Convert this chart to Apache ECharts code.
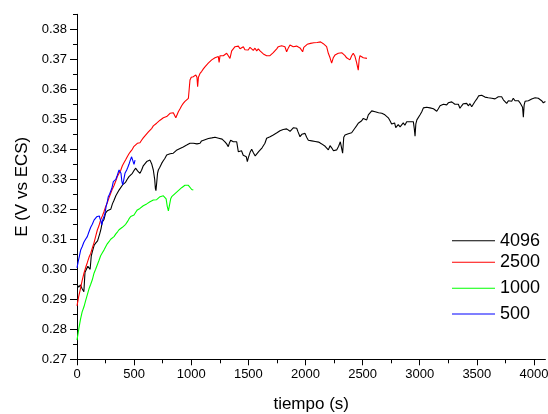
<!DOCTYPE html>
<html>
<head>
<meta charset="utf-8">
<script src="https://cdn.jsdelivr.net/npm/echarts@6/dist/echarts.min.js"></script>
<style>html,body{margin:0;padding:0;background:#fff}#c{width:548px;height:414px}</style>
</head>
<body>
<div id="c"></div>
<script>
const seriesNames = ['4096', '2500', '1000', '500'];
const seriesColors = ['#000000', '#ff0000', '#00ff00', '#0000ff'];

const xMajorTicks = [0, 500, 1000, 1500, 2000, 2500, 3000, 3500, 4000];
const xMinorTicks = [250, 750, 1250, 1750, 2250, 2750, 3250, 3750];
const yMajorTicks = [0.27, 0.28, 0.29, 0.30, 0.31, 0.32, 0.33, 0.34, 0.35, 0.36, 0.37, 0.38];
const yMinorTicks = [0.275, 0.285, 0.295, 0.305, 0.315, 0.325, 0.335, 0.345, 0.355, 0.365, 0.375, 0.385];

const t4096 = [0,15,30,45,60,70,80,95,105,115,125,135,150,165,180,193,200,210,222,235,251,265,280,295,310,324,340,355,368,385,400,411,425,440,455,470,485,500,514,530,543,551,565,580,595,610,625,639,655,668,680,686,691,698,705,712,725,741,755,770,785,800,815,830,843,860,875,890,902,915,930,945,960,975,989,1005,1018,1035,1050,1065,1077,1090,1105,1120,1135,1150,1164,1180,1193,1208,1223,1240,1255,1270,1281,1295,1310,1324,1335,1345,1354,1368,1383,1398,1412,1427,1440,1455,1470,1482,1491,1500,1515,1529,1545,1560,1573,1590,1605,1620,1631,1645,1660,1675,1690,1705,1718,1735,1750,1762,1777,1790,1805,1820,1835,1850,1865,1880,1895,1910,1923,1935,1952,1968,1981,1996,2010,2025,2039,2055,2070,2085,2100,2115,2127,2142,2156,2172,2185,2200,2215,2229,2245,2260,2273,2290,2305,2317,2325,2335,2346,2361,2375,2390,2404,2418,2432,2447,2462,2477,2492,2506,2520,2536,2550,2565,2580,2594,2610,2625,2640,2652,2668,2681,2695,2710,2725,2740,2754,2768,2780,2790,2798,2812,2828,2842,2856,2870,2886,2900,2915,2930,2944,2952,2959,2966,2975,2988,3003,3018,3032,3046,3061,3075,3090,3105,3120,3135,3149,3163,3178,3192,3207,3221,3236,3250,3265,3280,3294,3308,3323,3338,3352,3367,3382,3396,3411,3425,3440,3455,3469,3485,3500,3515,3527,3542,3557,3571,3586,3600,3615,3630,3645,3659,3673,3688,3703,3717,3732,3746,3761,3776,3790,3805,3819,3834,3848,3863,3878,3892,3900,3907,3914,3922,3936,3951,3965,3980,3995,4010,4024,4038,4053,4067,4082,4100];
const e4096 = [0.2950,0.2940,0.2948,0.2935,0.2925,0.2990,0.2985,0.3010,0.3015,0.3000,0.3045,0.3060,0.3080,0.3088,0.3095,0.3098,0.3120,0.3135,0.3158,0.3165,0.3188,0.3195,0.3190,0.3200,0.3218,0.3230,0.3245,0.3250,0.3264,0.3270,0.3282,0.3287,0.3290,0.3300,0.3309,0.3315,0.3320,0.3330,0.3337,0.3328,0.3325,0.3320,0.3330,0.3345,0.3350,0.3359,0.3362,0.3364,0.3350,0.3331,0.3300,0.3270,0.3262,0.3290,0.3320,0.3331,0.3340,0.3353,0.3362,0.3370,0.3381,0.3378,0.3385,0.3380,0.3387,0.3392,0.3398,0.3395,0.3403,0.3400,0.3408,0.3405,0.3414,0.3412,0.3420,0.3415,0.3420,0.3425,0.3418,0.3422,0.3420,0.3428,0.3425,0.3432,0.3429,0.3436,0.3442,0.3438,0.3444,0.3440,0.3442,0.3437,0.3440,0.3434,0.3431,0.3425,0.3418,0.3409,0.3422,0.3430,0.3431,0.3425,0.3428,0.3425,0.3392,0.3387,0.3395,0.3380,0.3385,0.3375,0.3359,0.3372,0.3390,0.3400,0.3388,0.3378,0.3381,0.3392,0.3398,0.3405,0.3409,0.3420,0.3437,0.3440,0.3442,0.3448,0.3448,0.3452,0.3455,0.3459,0.3462,0.3458,0.3466,0.3463,0.3468,0.3462,0.3460,0.3466,0.3472,0.3468,0.3470,0.3458,0.3442,0.3450,0.3448,0.3453,0.3440,0.3430,0.3425,0.3428,0.3422,0.3426,0.3420,0.3424,0.3425,0.3418,0.3420,0.3410,0.3409,0.3398,0.3412,0.3405,0.3395,0.3400,0.3398,0.3410,0.3425,0.3431,0.3387,0.3440,0.3448,0.3453,0.3452,0.3458,0.3455,0.3459,0.3470,0.3478,0.3487,0.3485,0.3495,0.3503,0.3498,0.3498,0.3515,0.3520,0.3528,0.3531,0.3525,0.3530,0.3522,0.3525,0.3520,0.3520,0.3515,0.3518,0.3505,0.3495,0.3484,0.3478,0.3488,0.3472,0.3476,0.3482,0.3475,0.3470,0.3488,0.3480,0.3492,0.3488,0.3492,0.3495,0.3492,0.3470,0.3444,0.3485,0.3498,0.3500,0.3515,0.3525,0.3538,0.3542,0.3540,0.3545,0.3538,0.3542,0.3535,0.3540,0.3527,0.3535,0.3545,0.3540,0.3550,0.3553,0.3548,0.3555,0.3552,0.3558,0.3559,0.3550,0.3545,0.3550,0.3537,0.3545,0.3552,0.3548,0.3553,0.3545,0.3552,0.3542,0.3548,0.3560,0.3568,0.3578,0.3584,0.3580,0.3578,0.3574,0.3577,0.3572,0.3575,0.3570,0.3574,0.3568,0.3572,0.3575,0.3570,0.3575,0.3565,0.3560,0.3553,0.3562,0.3565,0.3560,0.3570,0.3562,0.3558,0.3562,0.3555,0.3559,0.3540,0.3507,0.3548,0.3560,0.3555,0.3562,0.3564,0.3568,0.3565,0.3572,0.3575,0.3570,0.3566,0.3562,0.3555,0.3559];

const t2500 = [0,15,30,45,61,75,90,105,120,135,150,165,178,192,207,222,236,250,265,280,295,310,325,340,353,368,383,397,411,426,440,455,470,484,499,514,528,543,551,565,580,595,610,625,639,655,668,683,697,712,727,741,756,770,785,800,814,829,843,858,865,873,887,902,916,930,945,960,975,982,989,1000,1010,1018,1030,1040,1050,1056,1063,1077,1092,1106,1120,1135,1149,1164,1179,1193,1208,1223,1237,1244,1252,1266,1281,1296,1310,1325,1339,1354,1368,1383,1398,1412,1427,1441,1456,1470,1485,1499,1514,1529,1543,1558,1573,1587,1602,1617,1631,1646,1660,1675,1689,1704,1718,1733,1748,1762,1777,1791,1806,1820,1835,1850,1864,1879,1893,1908,1922,1937,1952,1967,1975,1985,2000,2015,2029,2044,2058,2073,2088,2102,2117,2132,2142,2156,2171,2185,2200,2215,2229,2243,2258,2273,2287,2302,2317,2331,2346,2360,2375,2389,2404,2418,2433,2447,2462,2470,2477,2492,2506,2521,2538];
const e2500 = [0.2878,0.2910,0.2935,0.2962,0.2987,0.3005,0.3022,0.3040,0.3053,0.3072,0.3090,0.3112,0.3131,0.3145,0.3165,0.3178,0.3192,0.3208,0.3222,0.3238,0.3253,0.3268,0.3280,0.3295,0.3309,0.3320,0.3330,0.3345,0.3355,0.3365,0.3375,0.3385,0.3393,0.3400,0.3410,0.3413,0.3420,0.3418,0.3422,0.3430,0.3438,0.3445,0.3450,0.3458,0.3464,0.3470,0.3478,0.3482,0.3487,0.3492,0.3497,0.3500,0.3505,0.3508,0.3509,0.3512,0.3520,0.3515,0.3522,0.3518,0.3505,0.3508,0.3525,0.3535,0.3545,0.3553,0.3560,0.3565,0.3570,0.3600,0.3631,0.3640,0.3645,0.3642,0.3638,0.3648,0.3640,0.3609,0.3640,0.3653,0.3660,0.3668,0.3675,0.3680,0.3687,0.3690,0.3698,0.3700,0.3705,0.3708,0.3709,0.3690,0.3712,0.3715,0.3712,0.3718,0.3720,0.3715,0.3703,0.3728,0.3735,0.3742,0.3738,0.3744,0.3735,0.3737,0.3742,0.3732,0.3738,0.3731,0.3740,0.3734,0.3730,0.3737,0.3728,0.3735,0.3728,0.3725,0.3718,0.3715,0.3712,0.3709,0.3712,0.3718,0.3722,0.3728,0.3735,0.3742,0.3748,0.3745,0.3750,0.3742,0.3725,0.3738,0.3748,0.3745,0.3742,0.3748,0.3744,0.3746,0.3738,0.3742,0.3725,0.3740,0.3745,0.3750,0.3748,0.3753,0.3750,0.3755,0.3752,0.3756,0.3755,0.3758,0.3759,0.3752,0.3748,0.3742,0.3720,0.3705,0.3687,0.3705,0.3714,0.3710,0.3720,0.3718,0.3722,0.3720,0.3712,0.3705,0.3702,0.3698,0.3712,0.3720,0.3710,0.3690,0.3664,0.3700,0.3712,0.3714,0.3705,0.3710,0.3703];

const t1000 = [0,15,30,45,61,75,90,105,120,134,149,163,178,193,207,222,236,251,265,280,295,310,324,340,355,368,383,397,411,426,440,455,470,484,499,514,528,543,551,565,580,595,610,625,639,654,668,683,697,712,727,741,756,770,780,790,800,810,820,829,843,858,873,887,902,916,930,945,960,975,989,1004,1018];
const e1000 = [0.2764,0.2800,0.2832,0.2858,0.2875,0.2895,0.2915,0.2935,0.2950,0.2965,0.2987,0.3000,0.3015,0.3030,0.3045,0.3055,0.3064,0.3075,0.3085,0.3092,0.3100,0.3105,0.3109,0.3118,0.3125,0.3132,0.3135,0.3140,0.3142,0.3150,0.3158,0.3168,0.3176,0.3178,0.3181,0.3190,0.3198,0.3200,0.3203,0.3208,0.3212,0.3216,0.3218,0.3222,0.3225,0.3228,0.3231,0.3235,0.3232,0.3238,0.3242,0.3240,0.3245,0.3244,0.3235,0.3210,0.3195,0.3215,0.3235,0.3242,0.3248,0.3252,0.3258,0.3262,0.3268,0.3272,0.3276,0.3280,0.3283,0.3280,0.3275,0.3266,0.3264];

const t500 = [0,10,20,32,45,60,75,90,105,120,134,149,160,172,187,195,202,210,216,225,236,245,255,265,274,285,295,305,318,330,340,350,360,368,376,385,392,400,410,420,435,445,455,465,478,484,492,499,508];
const e500 = [0.3005,0.3025,0.3042,0.3064,0.3075,0.3090,0.3100,0.3109,0.3125,0.3140,0.3150,0.3164,0.3170,0.3175,0.3181,0.3178,0.3168,0.3160,0.3148,0.3165,0.3175,0.3187,0.3210,0.3225,0.3242,0.3250,0.3253,0.3270,0.3292,0.3295,0.3300,0.3310,0.3322,0.3331,0.3337,0.3320,0.3295,0.3281,0.3300,0.3320,0.3331,0.3340,0.3350,0.3362,0.3375,0.3381,0.3370,0.3350,0.3364];

const times = [t4096, t2500, t1000, t500];
const values = [e4096, e2500, e1000, e500];

const FONT = '"Liberation Sans", Arial, sans-serif';
const legendCenters = [240.7, 262.3, 288.3, 314];

const chart = echarts.init(document.getElementById('c'), null, {renderer: 'canvas'});

const baseX = {
  type: 'value', min: 0, max: 4100, position: 'bottom', offset: 0,
  splitLine: {show: false},
  axisLine: {show: true, onZero: false, lineStyle: {color: '#000', width: 1}}
};
const baseY = {
  type: 'value', min: 0.27, max: 0.385, position: 'left', offset: 0,
  splitLine: {show: false},
  axisLine: {show: true, onZero: false, lineStyle: {color: '#000', width: 1}}
};

const option = {
  animation: false,
  backgroundColor: '#fff',
  grid: {left: 77, right: 2.6, top: 14.3, bottom: 54.7, containLabel: false, outerBoundsMode: 'none'},
  xAxis: [
    Object.assign({}, baseX, {
      name: 'tiempo (s)', nameLocation: 'middle', nameGap: 37,
      nameTextStyle: {fontFamily: FONT, fontSize: 17, color: '#000'},
      axisTick: {show: true, inside: false, length: 6, customValues: xMajorTicks, lineStyle: {color: '#000'}},
      axisLabel: {show: true, customValues: xMajorTicks, margin: 9, fontFamily: FONT, fontSize: 13, color: '#000',
        formatter: v => String(v)}
    }),
    Object.assign({}, baseX, {
      axisLine: {show: false},
      axisTick: {show: true, inside: false, length: 4, customValues: xMinorTicks, lineStyle: {color: '#000'}},
      axisLabel: {show: false}
    })
  ],
  yAxis: [
    Object.assign({}, baseY, {
      name: 'E (V vs ECS)', nameLocation: 'middle', nameGap: 46,
      nameTextStyle: {fontFamily: FONT, fontSize: 17, color: '#000'},
      axisTick: {show: true, inside: false, length: 7, customValues: yMajorTicks, lineStyle: {color: '#000'}},
      axisLabel: {show: true, customValues: yMajorTicks, margin: 10, fontFamily: FONT, fontSize: 13, color: '#000',
        formatter: v => v.toFixed(2)}
    }),
    Object.assign({}, baseY, {
      axisLine: {show: false},
      axisTick: {show: true, inside: false, length: 4, customValues: yMinorTicks, lineStyle: {color: '#000'}},
      axisLabel: {show: false}
    })
  ],
  legend: seriesNames.map((n, i) => ({
    data: [n], orient: 'vertical', left: 452, top: legendCenters[i] - 9, padding: 0,
    icon: 'rect', itemWidth: 43, itemHeight: 1, selectedMode: false,
    textStyle: {fontFamily: FONT, fontSize: 18, lineHeight: 18, color: '#000'}
  })),
  series: seriesNames.map((n, i) => ({
    name: n, type: 'line', xAxisIndex: 0, yAxisIndex: 0,
    symbol: 'none', showSymbol: false, smooth: false,
    color: seriesColors[i],
    lineStyle: {color: seriesColors[i], width: 1.1},
    data: times[i].map((t, j) => [t, values[i][j]])
  }))
};
chart.setOption(option);
</script>
</body>
</html>
